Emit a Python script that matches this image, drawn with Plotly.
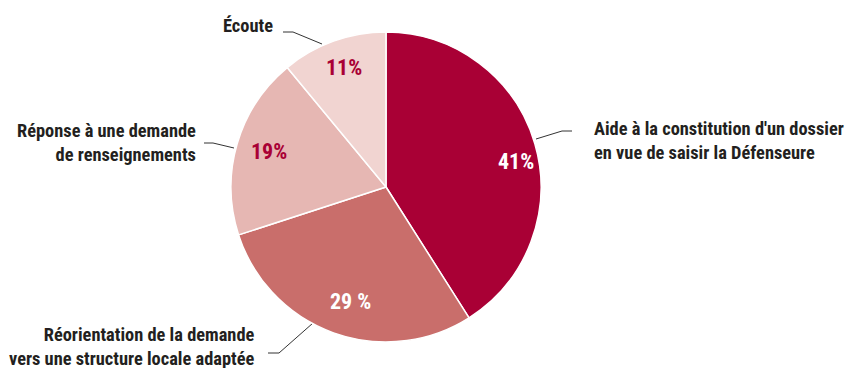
import plotly.graph_objects as go

W, H = 849, 368

# Data
categories = [
    "Aide à la constitution d'un dossier<br>en vue de saisir la Défenseure",
    "Réorientation de la demande<br>vers une structure locale adaptée",
    "Réponse à une demande<br>de renseignements",
    "Écoute",
]
shares = [41, 29, 19, 11]
share_text = ["41%", "29 %", "19%", "11%"]

# Styling
slice_colors = ["#A90035", "#C96E6B", "#E6B7B3", "#F1D4D1"]
pct_colors = ["#FFFFFF", "#FFFFFF", "#A90035", "#A90035"]
text_color = "#231F20"
FONT = "Roboto Condensed, Lato, Roboto, sans-serif"

# Pie disc placement (pixels)
cx, cy, r = 386, 187, 155

# Percentage label centres (pixels)
pct_pos = [(516, 161), (350, 301), (269, 151), (344, 67)]

# Category label anchors: (x, y, xanchor)
cat_pos = [(592, 140, "left"), (257, 346, "right"), (198, 142, "right"), (275, 25, "right")]

# Leader lines (pixels)
leaders = [
    [(536, 139), (562, 131), (572, 131)],
    [(313, 323), (279, 353), (268, 353)],
    [(234, 148), (213, 143), (204, 143)],
    [(322, 44), (293, 32), (283, 32)],
]

fig = go.Figure()

fig.add_trace(go.Pie(
    labels=categories,
    values=shares,
    sort=False,
    direction="clockwise",
    rotation=0,
    marker=dict(colors=slice_colors, line=dict(color="#FFFFFF", width=1.5)),
    textinfo="none",
    hoverinfo="label+percent",
    showlegend=False,
    domain=dict(x=[(cx - r) / W, (cx + r) / W], y=[1 - (cy + r) / H, 1 - (cy - r) / H]),
))

for pts in leaders:
    fig.add_trace(go.Scatter(
        x=[p[0] for p in pts], y=[p[1] for p in pts],
        mode="lines", line=dict(color="#333333", width=1),
        hoverinfo="skip", showlegend=False,
    ))

annotations = []
for txt, (x, y), col in zip(share_text, pct_pos, pct_colors):
    annotations.append(dict(
        x=x, y=y, xref="x", yref="y", text=txt, showarrow=False,
        xanchor="center", yanchor="middle",
        font=dict(family=FONT, size=22, color=col, weight="bold"),
    ))
for txt, (x, y, anchor) in zip(categories, cat_pos):
    annotations.append(dict(
        x=x, y=y, xref="x", yref="y", text=txt, showarrow=False,
        xanchor=anchor, yanchor="middle", align=anchor,
        font=dict(family=FONT, size=18.4, color=text_color, weight="bold"),
    ))

fig.update_layout(
    width=W, height=H,
    margin=dict(l=0, r=0, t=0, b=0),
    paper_bgcolor="#FFFFFF", plot_bgcolor="rgba(0,0,0,0)",
    xaxis=dict(range=[0, W], visible=False, fixedrange=True),
    yaxis=dict(range=[H, 0], visible=False, fixedrange=True),
    annotations=annotations,
)

fig.write_html("out.html")
